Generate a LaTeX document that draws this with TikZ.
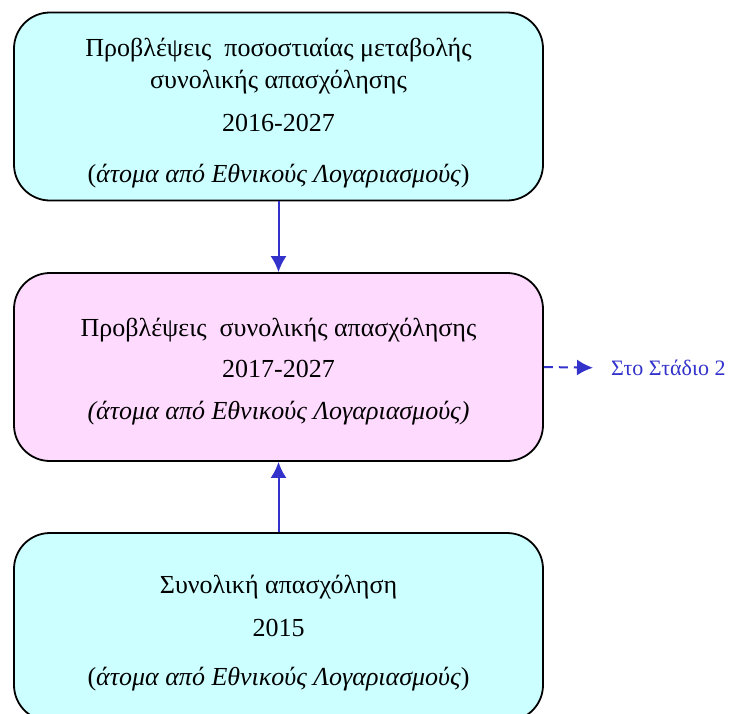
\documentclass[tikz,border=0pt]{standalone}
\usepackage{fontspec}
\setmainfont{Liberation Serif}
\usepackage{xcolor}
\usetikzlibrary{positioning, arrows.meta}

\definecolor{boxcyan}{HTML}{CCFFFF}
\definecolor{boxpink}{HTML}{FFDAFF}
\definecolor{arrowblue}{HTML}{3333CC}

\tikzset{
    hop/.style={draw, line width=1.8pt, rounded corners=36pt,
        minimum width=529pt, minimum height=188pt, align=center,
        font=\fontsize{26}{31}\selectfont},
    muiten/.style={->, arrowblue, line width=2pt}
}

\begin{document}
\begin{tikzpicture}[>={Latex[length=16pt,width=16pt]}, x=1pt, y=-1pt]
    \useasboundingbox (0,0) rectangle (730,713);

    % Các hộp
    \node[hop, fill=boxcyan] (duBao) at (278.5,106.5)
        {\rule{0pt}{31pt}Προβλέψεις\ \ ποσοστιαίας μεταβολής\\[1pt]
         συνολικής απασχόλησης\\[12pt]
         2016-2027\\[20pt]
         (\textit{άτομα από Εθνικούς Λογαριασμούς})};
    \node[hop, fill=boxpink] (tongDuBao) at (278.5,367)
        {\rule{0pt}{28pt}Προβλέψεις\ \ συνολικής απασχόλησης\\[10pt]
         2017-2027\\[11pt]
         \textit{(άτομα από Εθνικούς Λογαριασμούς)}};
    \node[hop, fill=boxcyan] (tongViecLam) at (278.5,627)
        {\rule{0pt}{30pt}Συνολική απασχόληση\\[12pt]
         2015\\[18pt]
         (\textit{άτομα από Εθνικούς Λογαριασμούς})};

    % Nhãn giai đoạn
    \node[anchor=west, inner sep=0pt, text=arrowblue,
        font=\fontsize{22}{26}\selectfont] (giaiDoan) at (611,368) {Στο Στάδιο 2};

    % Các mũi tên
    \draw[muiten] (duBao) -- (tongDuBao);
    \draw[muiten] (tongViecLam) -- (tongDuBao);
    \draw[muiten, dash pattern=on 9pt off 6pt, shorten >=18pt] (tongDuBao.east) -- (giaiDoan.west);
\end{tikzpicture}
\end{document}
